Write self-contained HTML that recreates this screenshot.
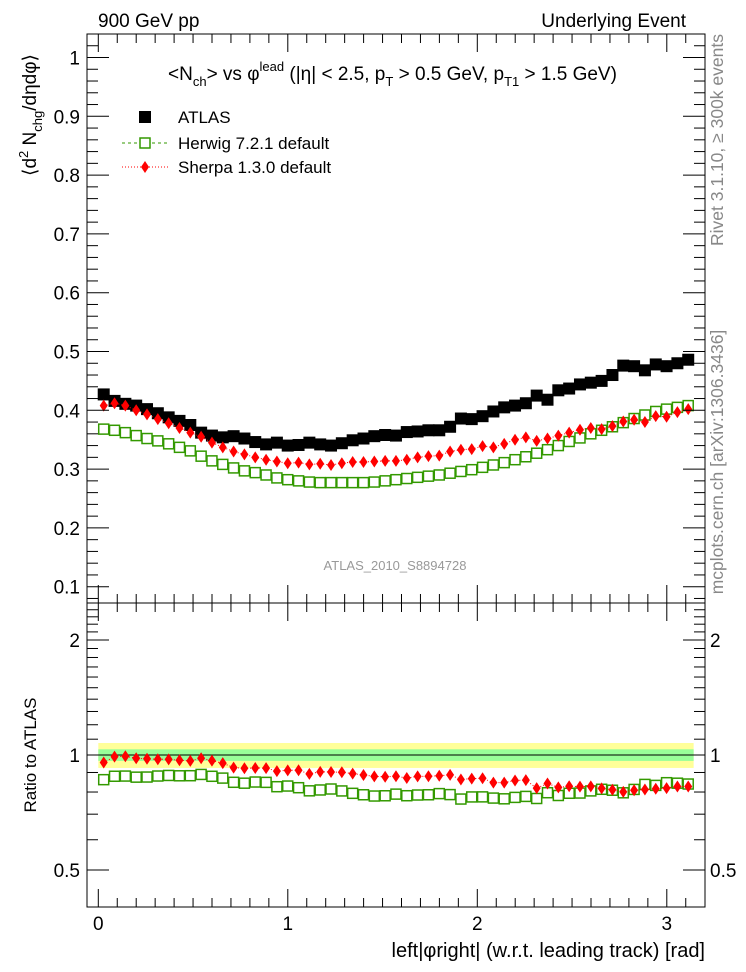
<!DOCTYPE html>
<html><head><meta charset="utf-8"><style>
body{margin:0;background:#fff}
svg{font-family:"Liberation Sans",Arial,sans-serif;display:block}
</style></head><body>
<svg id="chart" width="746" height="972" viewBox="0 0 746 972" xmlns="http://www.w3.org/2000/svg">
<rect x="0" y="0" width="746" height="972" fill="#fff"/>
<g id="ratio-bands"></g>
<g id="marks"></g>
<g id="axes" stroke="#000" fill="none" stroke-width="1"></g>
<g id="labels"></g>
<text x="98" y="27" font-size="19">900 GeV pp</text>
<text x="686" y="27" font-size="19" text-anchor="end">Underlying Event</text>
<text x="168" y="80" font-size="19">&lt;N<tspan font-size="13" dy="6">ch</tspan><tspan dy="-6">&gt; vs φ</tspan><tspan font-size="13" dy="-9">lead</tspan><tspan dy="9"> (|η| &lt; 2.5, p</tspan><tspan font-size="13" dy="6">T</tspan><tspan dy="-6"> &gt; 0.5 GeV, p</tspan><tspan font-size="13" dy="6">T1</tspan><tspan dy="-6"> &gt; 1.5 GeV)</tspan></text>
<g>
<rect x="139" y="111" width="12" height="12" fill="#000"/>
<text x="178" y="123" font-size="17">ATLAS</text>
<line x1="122" y1="143" x2="168" y2="143" stroke="#339900" stroke-dasharray="3,3"/>
<rect x="140" y="138" width="10" height="10" fill="#fff" stroke="#339900" stroke-width="1.5"/>
<text x="178" y="149" font-size="17">Herwig 7.2.1 default</text>
<line x1="122" y1="167" x2="168" y2="167" stroke="#f00" stroke-dasharray="1,2"/>
<path d="M145 161 L149 167 L145 173 L141 167 Z" fill="#f00"/>
<text x="178" y="173" font-size="17">Sherpa 1.3.0 default</text>
</g>
<text x="395" y="570" font-size="13" fill="#999" text-anchor="middle">ATLAS_2010_S8894728</text>
<text transform="translate(36,115) rotate(-90)" font-size="19" text-anchor="middle">⟨d<tspan font-size="13" dy="-8">2</tspan><tspan dy="8"> N</tspan><tspan font-size="13" dy="6">chg</tspan><tspan dy="-6">/dηdφ⟩</tspan></text>
<text transform="translate(36,755) rotate(-90)" font-size="17" text-anchor="middle">Ratio to ATLAS</text>
<text x="705" y="957" font-size="20" text-anchor="end">left|φright| (w.r.t. leading track) [rad]</text>
<text transform="translate(723,140) rotate(-90)" font-size="17.5" fill="#888" text-anchor="middle">Rivet 3.1.10, ≥ 300k events</text>
<text transform="translate(723,462) rotate(-90)" font-size="17.5" fill="#888" text-anchor="middle">mcplots.cern.ch [arXiv:1306.3436]</text>
</svg>
<script>
const atlas=[0.427,0.416,0.411,0.408,0.402,0.395,0.388,0.382,0.375,0.362,0.357,0.354,0.356,0.352,0.346,0.342,0.345,0.340,0.341,0.345,0.342,0.340,0.344,0.349,0.352,0.356,0.358,0.357,0.363,
0.364,0.366,0.366,0.372,0.386,0.385,0.390,0.398,0.405,0.408,0.412,0.425,0.418,0.434,0.437,0.444,0.447,0.450,0.460,0.476,0.475,0.468,0.478,0.475,0.480,0.486];
const sherpa=[0.408,0.412,0.408,0.400,0.393,0.385,0.378,0.370,0.362,0.355,0.345,0.337,0.330,0.325,0.320,0.316,0.313,0.310,0.311,0.308,0.309,0.307,0.310,0.312,0.312,0.313,0.314,0.314,0.316,
0.320,0.322,0.323,0.330,0.333,0.334,0.339,0.337,0.343,0.350,0.354,0.348,0.352,0.357,0.362,0.367,0.370,0.368,0.373,0.381,0.384,0.380,0.390,0.389,0.397,0.402];
const herwig=[0.368,0.366,0.362,0.357,0.352,0.348,0.343,0.337,0.331,0.322,0.314,0.308,0.302,0.297,0.294,0.290,0.285,0.282,0.280,0.278,0.277,0.277,0.277,0.277,0.277,0.278,0.280,0.282,0.284,
0.286,0.288,0.290,0.293,0.296,0.299,0.303,0.307,0.311,0.316,0.321,0.327,0.333,0.340,0.347,0.353,0.360,0.366,0.372,0.379,0.386,0.392,0.398,0.402,0.405,0.408];
const mainTicks=[0.1,0.2,0.3,0.4,0.5,0.6,0.7,0.8,0.9,1];
const mainTickLabels=["0.1","0.2","0.3","0.4","0.5","0.6","0.7","0.8","0.9","1"];
const ratioTicks=[0.5,1,2];
const ratioTickLabels=["0.5","1","2"];
const xTicks=[0,1,2,3];
const xTickLabels=["0","1","2","3"];
const bandInner=0.035, bandOuter=0.075;

const NS="http://www.w3.org/2000/svg";
const L=87,R=705,T=34,MB=603,RB=907;
const xs=v=>98.3+v*189.5;
const ym=v=>57.5+(1-v)*588;
const yr=v=>755-115*Math.log2(v);
const n=atlas.length, w=Math.PI/n;
const cx=i=>xs((i+0.5)*w);
function mk(tag,attrs,parent){const e=document.createElementNS(NS,tag);for(const k in attrs)e.setAttribute(k,attrs[k]);document.getElementById(parent).appendChild(e);return e;}

let e=mk('rect',{x:xs(0),y:yr(1+bandOuter),width:xs(Math.PI)-xs(0),height:yr(1-bandOuter)-yr(1+bandOuter),fill:'#ffff99'},'ratio-bands');


e=mk('rect',{x:xs(0),y:yr(1+bandInner),width:xs(Math.PI)-xs(0),height:yr(1-bandInner)-yr(1+bandInner),fill:'#99ff99'},'ratio-bands');


e=mk('line',{x1:xs(0),x2:xs(Math.PI),y1:yr(1),y2:yr(1),stroke:'#000'},'ratio-bands');



function series(vals,yf,kind,name){
  const pts=vals.map((v,i)=>cx(i).toFixed(1)+','+yf(v).toFixed(1)).join(' ');
  if(kind!=='atlas'){
    const pl=mk('polyline',{points:pts,fill:'none',stroke:kind==='herwig'?'#339900':'#f00','stroke-dasharray':kind==='herwig'?'3,3':'1,2'},'marks');
    
    
  }
  vals.forEach((v,i)=>{
    const x=cx(i),y=yf(v);let m;
    if(kind==='atlas')m=mk('rect',{x:x-6,y:y-6,width:12,height:12,fill:'#000'},'marks');
    else if(kind==='herwig')m=mk('rect',{x:x-5,y:y-5,width:10,height:10,fill:'#fff',stroke:'#339900','stroke-width':1.5},'marks');
    else m=mk('path',{d:`M${x} ${y-6} L${x+4} ${y} L${x} ${y+6} L${x-4} ${y} Z`,fill:'#f00'},'marks');
    
    
  });
}
series(atlas,ym,'atlas','atlas');
series(herwig,ym,'herwig','herwig');
series(sherpa,ym,'sherpa','sherpa');
series(herwig.map((v,i)=>v/atlas[i]),yr,'herwig','herwig-ratio');
series(sherpa.map((v,i)=>v/atlas[i]),yr,'sherpa','sherpa-ratio');

e=mk('rect',{x:L,y:T,width:R-L,height:MB-T},'axes');


e=mk('rect',{x:L,y:MB,width:R-L,height:RB-MB},'axes');


function tick(x1,y1,x2,y2){const t=mk('line',{x1,y1,x2,y2},'axes');}
for(let k=4;k<=51;k++){const v=k/50,y=ym(v);if(y<T||y>MB)continue;const len=(k%5===0)?22:11;tick(L,y,L+len,y);tick(R,y,R-len,y);}
mainTicks.forEach((v,i)=>{const t=mk('text',{x:80,y:ym(v)+7,'font-size':19,'text-anchor':'end'},'labels');t.textContent=mainTickLabels[i];});
for(let k=4;k<=25;k++){const v=k/10,y=yr(v);if(y<MB||y>RB)continue;const len=(k===5||k===10||k===20)?22:11;tick(L,y,L+len,y);tick(R,y,R-len,y);}
ratioTicks.forEach((v,i)=>{let t=mk('text',{x:80,y:yr(v)+7,'font-size':19,'text-anchor':'end'},'labels');t.textContent=ratioTickLabels[i];
 t=mk('text',{x:710,y:yr(v)+7,'font-size':19},'labels');t.textContent=ratioTickLabels[i];});
for(let k=0;k<=31;k++){const x=xs(k/10);if(x>R)continue;const len=(k%10===0)?18:9;tick(x,T,x,T+len);tick(x,MB,x,MB-len);tick(x,MB,x,MB+len);tick(x,RB,x,RB-len);}
xTicks.forEach((v,i)=>{const t=mk('text',{x:xs(v),y:930,'font-size':19,'text-anchor':'middle'},'labels');t.textContent=xTickLabels[i];});
</script>
</body></html>
